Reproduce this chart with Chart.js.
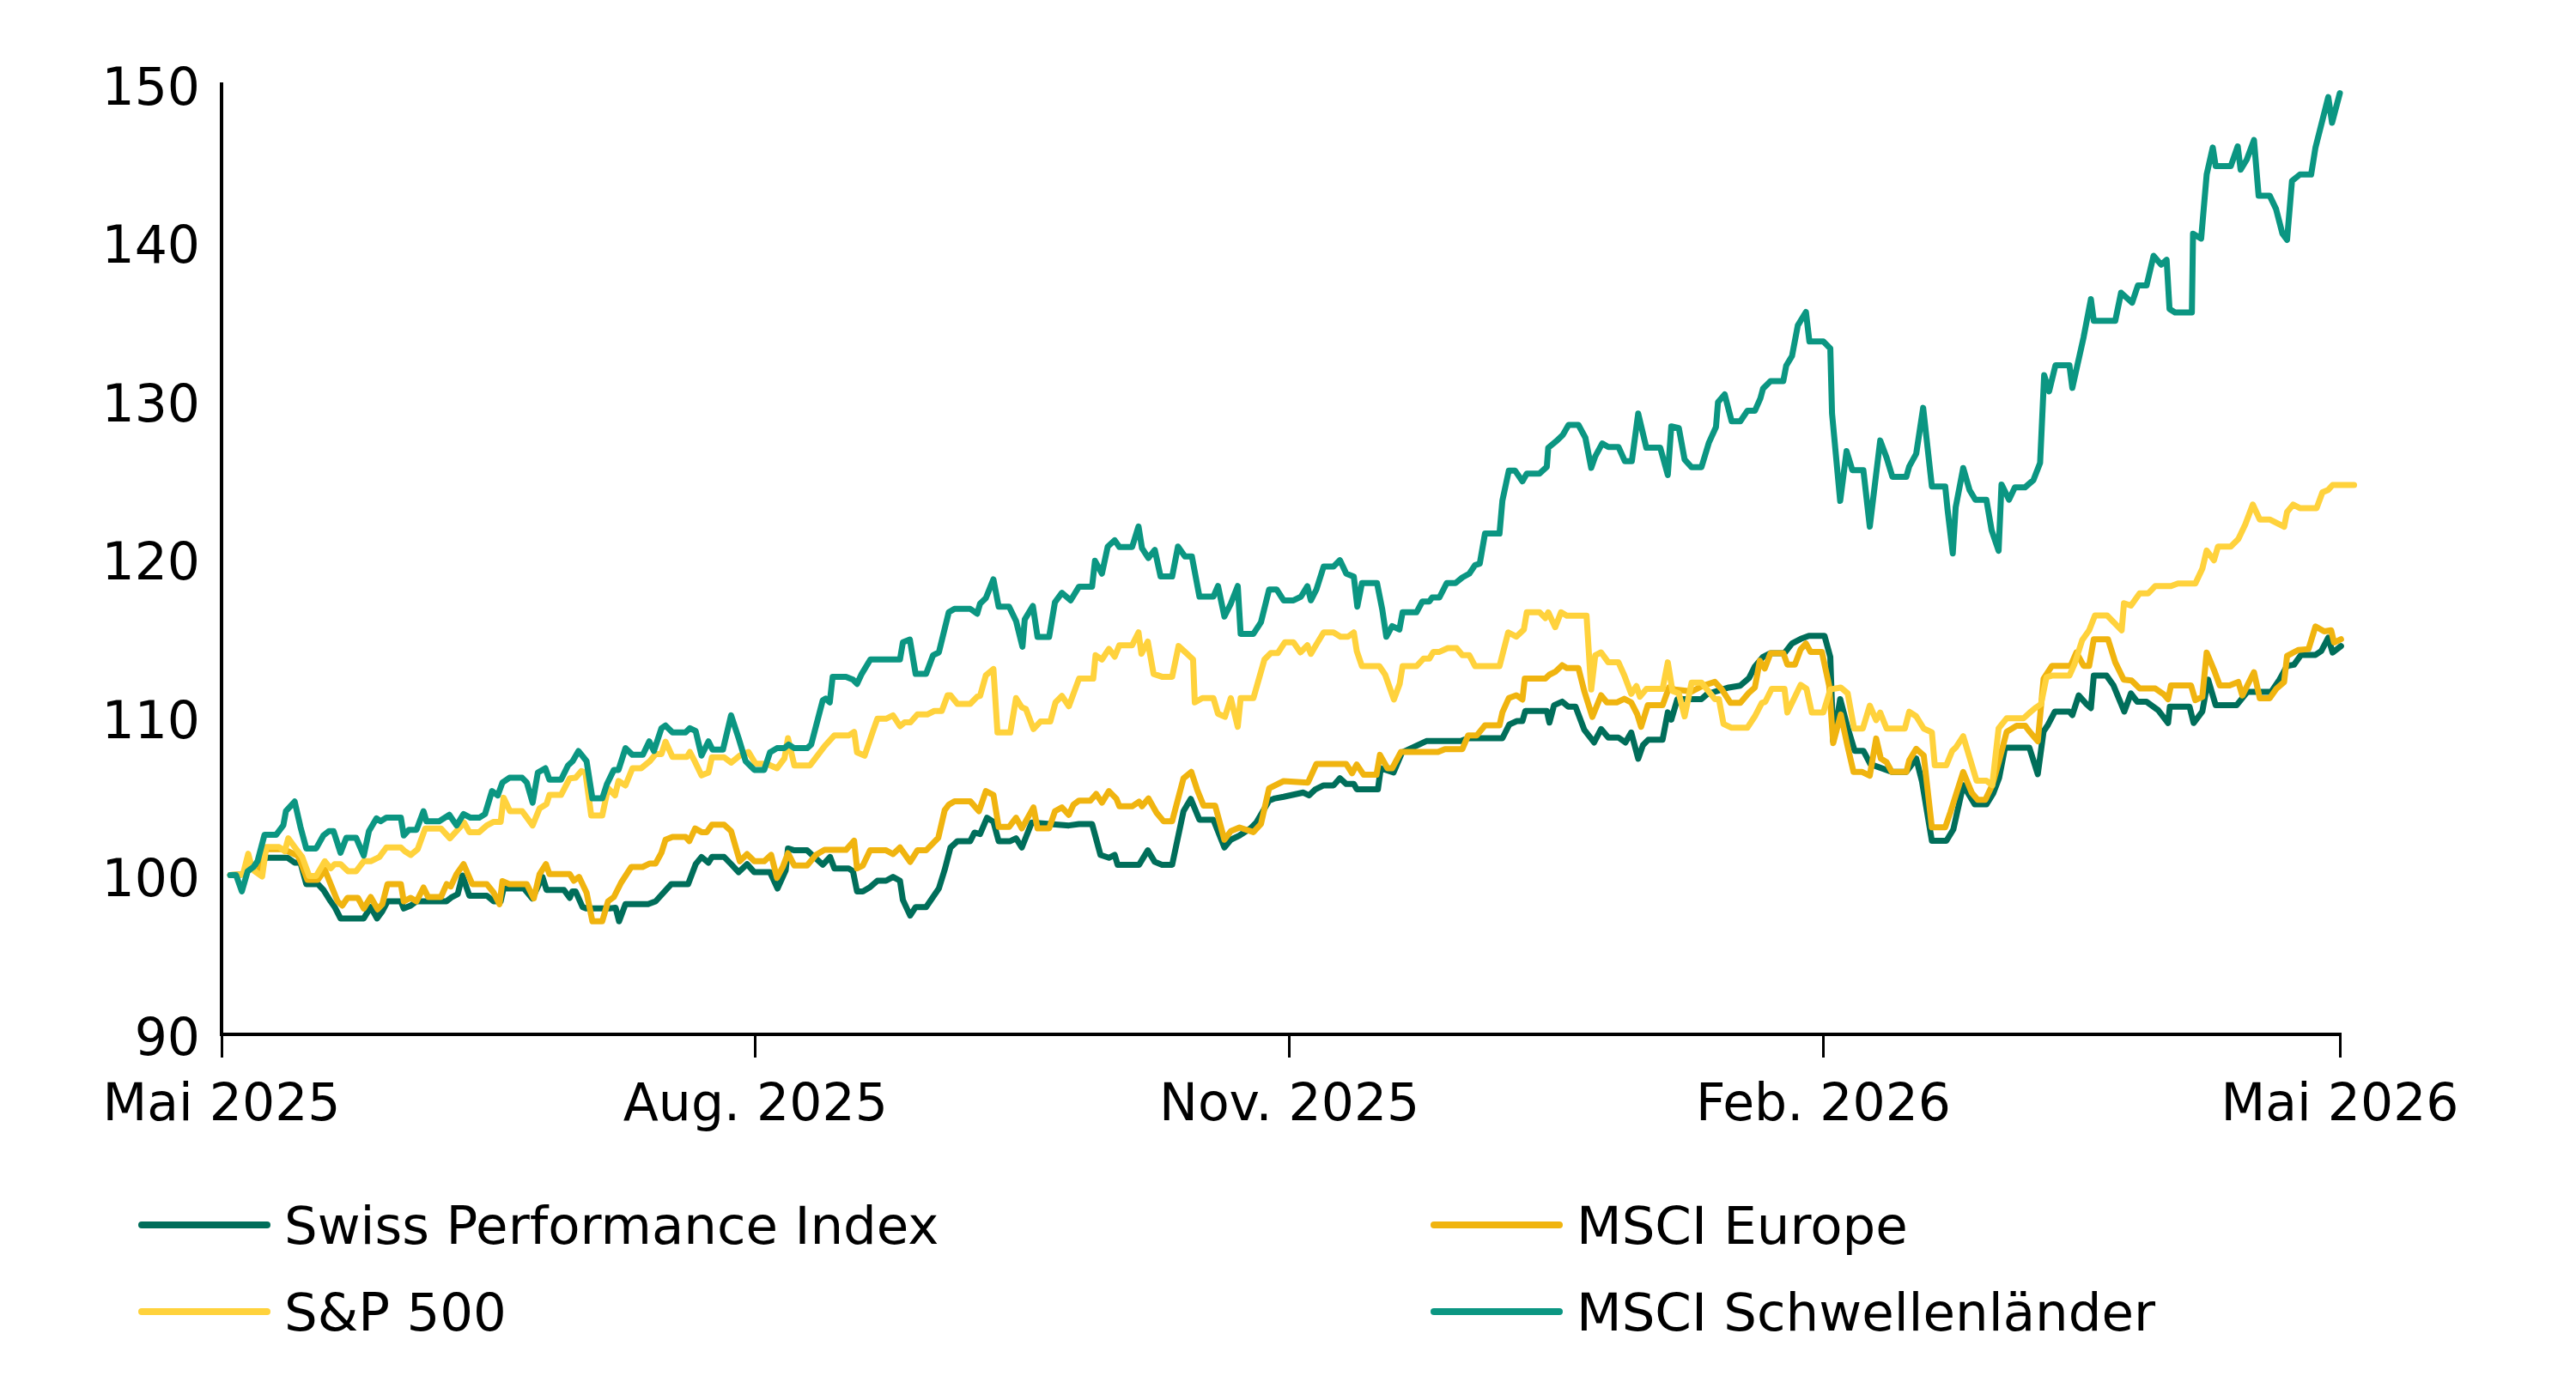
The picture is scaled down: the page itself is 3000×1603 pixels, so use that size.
<!DOCTYPE html>
<html lang="de">
<head>
<meta charset="utf-8">
<title>Indexentwicklung</title>
<script src="https://cdn.jsdelivr.net/npm/chart.js@4.4.1/dist/chart.umd.min.js"></script>
<style>
  html, body { margin: 0; padding: 0; background: #ffffff; }
  #wrap { position: relative; width: 3000px; height: 1603px; overflow: hidden; }
  #chart { position: absolute; left: 0; top: 0; }
  .legend-item { position: absolute; height: 80px; display: flex; align-items: center;
    font-family: 'DejaVu Sans', sans-serif; font-size: 61px; color: #000; white-space: nowrap; }
  .legend-line { display: inline-block; width: 154px; height: 8px; border-radius: 4px; margin-right: 16px; }
</style>
</head>
<body>
<div id="wrap">
  <canvas id="chart" width="3000" height="1603"></canvas>
</div>
<script>
// x values: calendar days since 1 May 2025
const tickDays = [0, 92, 184, 276, 365];
const tickLabels = ['Mai 2025', 'Aug. 2025', 'Nov. 2025', 'Feb. 2026', 'Mai 2026'];

const seriesNames = ['Swiss Performance Index', 'MSCI Europe', 'S&P 500', 'MSCI Schwellenländer'];
const seriesColors = ['#006E5A', '#F0B40F', '#FFD23C', '#0B9682'];

// [day, index value]
const spiPoints = [[1.5,100.06],[3.5,100.1],[4.7,100.39],[6.2,100.57],[7.7,101.15],[11.4,101.15],[12.6,100.84],[13.6,100.84],[14.6,99.49],[16.6,99.49],[17.55,99.12],[18.8,98.4],[19.5,98.04],[20.5,97.32],[24.5,97.32],[25.7,98.04],[26.8,97.32],[27.7,97.77],[28.6,98.4],[30.9,98.4],[31.4,97.95],[32.6,98.13],[33.6,98.4],[38.75,98.4],[39.7,98.67],[40.7,98.85],[41.5,100.03],[42.7,98.76],[45.7,98.76],[46.9,98.4],[48.1,98.4],[48.6,99.21],[52.1,99.21],[53.55,98.58],[55.3,99.94],[56.0,99.12],[59.0,99.12],[60.0,98.62],[60.45,99.03],[61.0,99.03],[62.2,98.04],[62.9,97.95],[66.9,97.95],[67.9,98.0],[68.5,97.14],[69.6,98.22],[73.5,98.22],[74.8,98.4],[77.5,99.49],[80.4,99.49],[81.7,100.75],[82.7,101.2],[83.9,100.84],[84.5,101.2],[86.6,101.2],[87.8,100.75],[89.1,100.24],[90.55,100.75],[91.8,100.24],[94.5,100.24],[95.8,99.21],[97.2,100.35],[97.6,101.74],[98.7,101.62],[100.9,101.62],[102.4,101.11],[103.6,100.71],[104.85,101.2],[105.6,100.48],[108.05,100.48],[108.8,100.3],[109.5,99.03],[110.5,99.03],[111.75,99.3],[113.0,99.7],[114.5,99.7],[115.7,99.94],[116.9,99.7],[117.4,98.49],[118.65,97.5],[119.6,98.04],[121.4,98.04],[123.6,99.21],[124.6,100.39],[125.6,101.8],[126.8,102.2],[129.0,102.2],[129.75,102.74],[130.7,102.65],[131.9,103.68],[133.0,103.42],[133.9,102.2],[135.9,102.2],[136.9,102.38],[137.9,101.8],[139.6,103.37],[146.0,103.19],[147.75,103.28],[150.0,103.28],[151.45,101.33],[152.9,101.15],[153.9,101.33],[154.4,100.71],[158.1,100.71],[159.6,101.62],[160.8,100.89],[162.05,100.71],[163.8,100.71],[165.75,104.09],[167.0,104.87],[168.5,103.55],[170.9,103.55],[172.8,101.8],[173.9,102.29],[175.4,102.56],[177.3,103.01],[178.3,103.37],[180.5,104.76],[181.5,104.9],[183.0,105.0],[186.4,105.27],[187.4,105.09],[188.4,105.45],[189.9,105.72],[191.6,105.72],[192.7,106.17],[193.8,105.81],[195.1,105.81],[195.6,105.48],[199.25,105.48],[199.75,106.8],[201.95,106.53],[203.4,107.8],[207.6,108.52],[213.55,108.52],[214.8,108.7],[220.7,108.7],[221.9,109.57],[223.2,109.78],[224.15,109.78],[224.65,110.42],[228.35,110.42],[228.8,109.69],[229.6,110.78],[231.0,111.01],[232.05,110.69],[233.3,110.69],[234.8,109.24],[236.5,108.43],[237.7,109.28],[238.95,108.74],[240.7,108.74],[241.9,108.43],[242.9,109.06],[244.1,107.4],[244.9,108.25],[245.85,108.61],[248.3,108.61],[249.2,110.33],[249.8,109.87],[250.85,111.17],[255.0,111.17],[256.0,111.49],[259.7,111.9],[261.7,112.02],[263.2,112.5],[264.2,113.23],[265.6,113.83],[266.9,114.07],[269.3,114.07],[270.6,114.68],[272.1,114.97],[273.5,115.16],[276.2,115.16],[277.2,113.83],[277.7,108.51],[278.9,111.17],[280.2,109.36],[281.4,107.9],[282.9,107.9],[284.1,107.06],[285.4,106.89],[287.8,106.57],[290.3,106.57],[292.0,107.42],[293.0,105.97],[294.7,102.22],[297.2,102.22],[298.4,102.94],[300.1,105.73],[302.1,104.52],[304.1,104.52],[305.3,105.24],[306.3,106.21],[307.3,108.1],[311.5,108.1],[312.95,106.43],[313.95,109.13],[314.7,109.54],[315.9,110.38],[318.4,110.38],[318.9,110.16],[320.0,111.4],[321.35,110.85],[322.1,110.6],[322.6,112.65],[324.8,112.65],[326.0,112.03],[327.85,110.38],[329.0,111.53],[330.1,111.0],[331.7,111.0],[333.7,110.47],[335.4,109.66],[335.7,110.69],[339.1,110.69],[339.8,109.66],[341.3,110.38],[342.3,112.4],[343.6,110.78],[347.2,110.78],[349.05,111.62],[353.15,111.62],[354.6,112.4],[355.9,113.27],[357.1,113.34],[358.3,113.96],[360.8,113.96],[361.8,114.21],[363.0,115.05],[363.75,114.11],[365.2,114.52],[367.45,114.52]];

const europePoints = [[1.5,100.06],[3.5,100.1],[5.0,100.6],[6.5,100.3],[7.7,101.69],[10.65,101.69],[13.1,101.29],[13.6,100.93],[14.8,99.76],[16.6,99.76],[17.8,100.39],[19.0,99.3],[20.0,98.4],[20.8,98.13],[21.7,98.62],[23.5,98.62],[24.5,97.95],[25.7,98.67],[26.9,97.9],[27.7,98.22],[28.6,99.49],[30.9,99.49],[31.4,98.4],[32.6,98.62],[33.6,98.4],[34.8,99.27],[35.6,98.67],[37.8,98.67],[38.8,99.49],[39.5,99.34],[40.5,100.12],[41.7,100.75],[43.2,99.49],[45.7,99.49],[46.9,98.94],[47.9,98.22],[48.4,99.67],[49.6,99.49],[52.6,99.49],[53.8,98.58],[54.8,100.12],[55.9,100.75],[56.5,100.12],[60.0,100.12],[60.7,99.7],[61.6,99.94],[62.9,98.94],[63.9,97.14],[65.6,97.14],[66.6,98.4],[67.6,98.67],[68.85,99.58],[70.6,100.57],[72.55,100.57],[73.8,100.79],[74.8,100.79],[75.8,101.47],[76.5,102.29],[77.7,102.47],[79.95,102.47],[80.6,102.2],[81.6,103.0],[82.7,102.77],[83.6,102.77],[84.5,103.24],[86.6,103.24],[87.8,102.83],[89.3,100.93],[90.55,101.38],[91.8,100.93],[93.5,100.93],[94.7,101.33],[95.7,99.88],[96.7,100.57],[97.6,101.44],[98.7,100.66],[100.9,100.66],[102.4,101.33],[103.9,101.65],[107.6,101.65],[109.0,102.23],[109.5,100.48],[110.5,100.66],[111.75,101.62],[114.5,101.62],[115.7,101.38],[116.9,101.8],[118.65,100.89],[119.9,101.62],[121.4,101.62],[123.5,102.41],[124.6,104.15],[125.3,104.5],[126.3,104.72],[129.0,104.72],[130.5,104.09],[131.7,105.36],[133.0,105.12],[133.9,103.1],[135.7,103.1],[136.9,103.68],[137.9,103.01],[139.9,104.33],[140.6,103.01],[142.6,103.01],[143.6,104.09],[144.8,104.33],[146.0,103.86],[146.8,104.51],[147.75,104.76],[149.7,104.76],[150.7,105.18],[151.7,104.63],[152.9,105.36],[154.2,104.87],[154.7,104.4],[156.9,104.4],[158.1,104.69],[158.6,104.4],[159.7,104.9],[161.1,104.0],[162.3,103.46],[163.8,103.46],[165.75,106.17],[167.1,106.57],[168.1,105.45],[169.2,104.45],[171.2,104.45],[172.8,102.29],[173.9,102.83],[175.4,103.06],[177.8,102.77],[179.1,103.28],[180.5,105.54],[183.0,105.99],[187.2,105.9],[188.65,107.07],[193.8,107.07],[194.8,106.49],[195.6,107.04],[196.8,106.39],[199.0,106.39],[199.6,107.65],[200.9,106.8],[201.7,106.8],[203.2,107.83],[209.6,107.83],[210.8,108.01],[213.8,108.01],[214.8,108.88],[216.3,108.88],[217.7,109.51],[220.2,109.51],[220.7,110.33],[221.8,111.23],[223.1,111.41],[224.15,111.14],[224.55,112.46],[228.1,112.46],[228.8,112.71],[229.8,112.89],[231.0,113.31],[231.8,113.13],[233.8,113.13],[234.8,111.68],[236.2,110.05],[237.7,111.41],[238.7,110.96],[240.4,110.96],[241.7,111.19],[242.9,110.96],[243.9,110.24],[244.6,109.42],[245.75,110.78],[248.3,110.78],[249.4,111.9],[250.4,111.78],[253.3,111.65],[255.3,112.02],[257.3,112.26],[258.5,111.78],[260.0,110.93],[261.7,110.93],[263.2,111.58],[264.2,111.9],[265.05,113.59],[265.9,113.1],[266.9,114.07],[269.1,114.07],[269.8,113.35],[271.1,113.35],[272.1,114.32],[273.0,114.68],[273.8,114.15],[275.75,114.15],[277.0,112.02],[277.7,108.39],[279.0,110.2],[280.2,108.15],[281.2,106.57],[282.7,106.57],[284.0,106.33],[285.1,108.68],[285.9,107.42],[286.9,107.18],[287.8,106.57],[290.3,106.57],[290.8,107.3],[292.0,108.03],[293.3,107.61],[294.7,103.07],[297.0,103.07],[297.9,104.03],[300.1,106.57],[301.6,105.24],[302.6,104.81],[303.9,104.81],[305.1,105.73],[306.3,107.3],[307.6,109.11],[309.3,109.48],[310.8,109.48],[311.5,109.13],[312.95,108.51],[313.95,112.46],[315.4,113.27],[318.6,113.27],[319.6,114.11],[320.85,113.27],[321.8,113.27],[322.6,114.95],[325.05,114.95],[326.3,113.49],[327.75,112.4],[329.1,112.34],[330.5,111.84],[333.2,111.84],[334.65,111.47],[335.4,111.16],[335.9,112.03],[339.35,112.03],[340.1,111.1],[341.3,111.31],[342.05,114.11],[343.3,113.02],[344.3,112.03],[346.0,112.03],[347.5,112.25],[348.2,111.4],[350.2,112.87],[351.2,111.22],[352.9,111.22],[354.1,111.84],[355.4,112.25],[355.9,113.9],[357.8,114.27],[359.6,114.33],[360.8,115.76],[362.3,115.45],[363.5,115.51],[364.0,114.74],[365.2,114.95],[367.45,114.95]];

const spxPoints = [[1.5,100.06],[3.7,100.1],[4.6,101.4],[5.2,100.57],[5.7,100.3],[7.0,99.97],[7.7,101.83],[9.9,101.83],[10.9,101.56],[11.5,102.38],[12.6,101.83],[13.9,101.2],[15.1,100.0],[16.3,100.0],[17.8,100.93],[18.8,100.48],[19.5,100.75],[20.5,100.75],[21.8,100.3],[23.2,100.3],[24.5,100.93],[25.7,100.93],[27.2,101.2],[28.4,101.8],[30.9,101.8],[31.6,101.56],[32.6,101.33],[33.8,101.69],[35.1,103.0],[37.8,103.0],[39.35,102.38],[40.7,102.92],[41.8,103.37],[42.7,102.77],[44.4,102.77],[45.7,103.19],[46.9,103.42],[48.1,103.42],[48.6,104.94],[49.7,104.09],[51.8,104.09],[53.6,103.19],[54.8,104.27],[56.0,104.54],[56.5,105.12],[58.5,105.12],[60.0,106.17],[61.0,106.2],[62.0,106.62],[62.7,106.53],[63.7,103.82],[65.6,103.82],[66.6,105.54],[67.8,105.09],[68.4,106.0],[69.6,105.72],[70.8,106.8],[72.3,106.8],[73.8,107.25],[74.8,107.7],[75.8,107.7],[76.5,108.48],[77.7,107.52],[80.2,107.52],[80.7,107.83],[81.4,107.34],[82.7,106.35],[83.9,106.53],[84.5,107.49],[86.6,107.49],[87.8,107.16],[89.3,107.6],[90.8,107.83],[92.0,107.1],[94.0,107.07],[95.7,106.8],[97.0,107.43],[97.6,108.7],[98.7,106.98],[101.4,106.98],[103.9,108.19],[105.6,108.88],[108.1,108.88],[109.0,109.1],[109.5,107.8],[110.8,107.6],[112.2,109.1],[113.0,109.93],[114.5,109.93],[115.7,110.14],[116.9,109.46],[117.7,109.7],[118.7,109.7],[119.9,110.2],[121.6,110.2],[122.8,110.42],[124.1,110.42],[125.1,111.41],[125.6,111.41],[126.8,110.87],[129.0,110.87],[130.2,111.32],[130.7,111.37],[131.7,112.67],[133.0,113.07],[133.7,109.06],[135.9,109.06],[136.9,111.23],[137.9,110.65],[138.6,110.54],[139.9,109.28],[141.1,109.75],[142.8,109.75],[143.7,110.96],[144.8,111.37],[146.0,110.72],[147.75,112.46],[150.2,112.46],[150.6,113.94],[151.7,113.67],[152.9,114.34],[153.9,113.85],[154.7,114.57],[156.9,114.57],[158.0,115.38],[158.5,114.03],[159.6,114.8],[160.6,112.76],[162.05,112.58],[163.8,112.58],[164.9,114.52],[166.0,114.15],[167.4,113.67],[167.7,110.96],[169.0,111.23],[170.9,111.23],[171.7,110.24],[172.9,110.05],[173.9,111.23],[175.1,109.42],[175.6,111.23],[177.8,111.23],[179.7,113.67],[180.8,114.08],[182.0,114.08],[183.2,114.75],[184.7,114.75],[185.9,114.12],[187.1,114.57],[187.7,114.03],[188.65,114.62],[189.9,115.38],[191.6,115.38],[192.8,115.11],[194.1,115.11],[195.1,115.38],[195.6,114.21],[196.5,113.25],[199.5,113.25],[200.5,112.71],[202.0,111.14],[203.0,112.13],[203.5,113.25],[205.9,113.25],[207.1,113.72],[208.1,113.72],[208.8,114.15],[209.85,114.15],[211.3,114.39],[212.8,114.39],[213.8,113.94],[215.0,113.94],[216.0,113.25],[220.2,113.25],[221.7,115.38],[223.1,115.11],[224.4,115.56],[224.9,116.65],[227.1,116.65],[228.1,116.29],[228.6,116.65],[229.8,115.71],[230.8,116.65],[231.8,116.43],[235.2,116.43],[236.0,111.77],[236.7,113.94],[237.7,114.12],[238.95,113.49],[240.7,113.49],[241.7,112.67],[242.9,111.5],[243.8,111.99],[244.4,111.32],[245.5,111.81],[248.3,111.81],[249.2,113.49],[250.0,111.68],[251.1,111.53],[252.1,110.08],[253.3,112.21],[255.0,112.21],[257.3,111.17],[258.0,111.17],[258.8,109.6],[260.2,109.36],[262.9,109.36],[264.2,110.08],[265.4,110.93],[266.0,111.0],[267.1,111.82],[269.3,111.82],[269.8,110.32],[272.1,112.07],[273.1,111.82],[274.0,110.32],[276.0,110.32],[277.2,111.78],[279.0,111.9],[280.2,111.53],[281.3,109.31],[282.8,109.31],[284.0,110.76],[285.1,109.84],[285.8,110.32],[286.9,109.31],[290.05,109.31],[290.8,110.37],[292.0,110.08],[293.3,109.31],[294.7,109.07],[295.2,106.99],[297.2,106.99],[298.2,107.9],[298.9,108.15],[300.1,108.82],[302.4,106.02],[304.1,106.02],[305.1,105.73],[306.2,109.31],[306.8,109.6],[307.6,109.96],[310.5,109.96],[311.75,110.37],[312.5,110.6],[313.5,110.85],[314.45,112.56],[315.4,112.65],[318.4,112.65],[319.3,113.4],[320.6,114.89],[321.8,115.51],[322.8,116.45],[324.9,116.45],[327.4,115.51],[327.8,117.22],[329.0,117.07],[330.5,117.85],[332.0,117.85],[333.2,118.31],[335.9,118.31],[337.1,118.47],[340.1,118.47],[341.3,119.4],[342.05,120.55],[343.3,119.93],[344.0,120.8],[346.2,120.8],[347.5,121.27],[348.7,122.2],[350.0,123.45],[351.2,122.51],[352.9,122.51],[355.4,122.05],[355.9,122.98],[356.95,123.45],[358.1,123.23],[361.0,123.23],[362.0,124.23],[363.0,124.38],[363.75,124.69],[367.45,124.69]];

const emPoints = [[1.5,100.06],[2.5,100.06],[3.5,99.03],[4.5,100.3],[5.5,100.57],[6.2,100.93],[7.4,102.6],[9.4,102.6],[10.65,103.2],[11.1,104.1],[12.6,104.7],[13.6,103.1],[14.6,101.74],[16.3,101.74],[17.55,102.56],[18.5,102.83],[19.3,102.83],[20.5,101.47],[21.5,102.41],[23.2,102.41],[24.5,101.29],[25.4,102.83],[26.7,103.64],[27.4,103.46],[28.4,103.68],[30.9,103.68],[31.4,102.56],[32.3,102.92],[33.6,102.92],[34.8,104.09],[35.3,103.46],[37.5,103.46],[39.25,103.86],[40.5,103.19],[41.7,103.91],[42.9,103.68],[44.4,103.68],[45.4,103.91],[46.6,105.36],[47.6,105.09],[48.4,105.9],[49.6,106.2],[51.8,106.2],[52.6,105.9],[53.6,104.63],[54.5,106.53],[55.8,106.8],[56.5,106.08],[58.5,106.08],[59.7,106.98],[60.5,107.25],[61.5,107.89],[62.9,107.25],[63.9,104.9],[65.6,104.9],[66.4,105.8],[67.6,106.7],[68.4,106.7],[69.6,108.07],[70.8,107.65],[72.6,107.65],[73.7,108.5],[74.5,107.89],[75.8,109.33],[76.5,109.5],[77.7,109.06],[79.95,109.06],[80.7,109.33],[81.7,109.15],[82.7,107.6],[83.9,108.5],[84.6,107.98],[86.4,107.98],[87.8,110.14],[89.1,108.7],[90.3,107.25],[91.8,106.7],[93.5,106.7],[94.5,107.8],[95.7,108.07],[96.95,108.07],[97.7,108.3],[98.7,108.07],[100.9,108.07],[101.6,108.3],[103.6,111.1],[104.1,111.2],[104.8,110.96],[105.3,112.58],[107.6,112.58],[108.8,112.4],[109.5,112.13],[110.3,112.76],[111.8,113.67],[116.9,113.67],[117.4,114.75],[118.6,114.93],[119.6,112.76],[121.4,112.76],[122.6,113.94],[123.6,114.12],[125.3,116.65],[126.3,116.87],[129.0,116.87],[130.2,116.56],[130.7,117.19],[131.7,117.55],[133.0,118.73],[133.9,117.01],[135.7,117.01],[136.9,116.1],[138.0,114.48],[138.4,116.2],[139.8,117.05],[140.6,115.1],[142.6,115.1],[143.6,117.28],[144.8,117.88],[146.3,117.4],[147.75,118.27],[150.0,118.27],[150.5,119.9],[151.7,119.09],[152.7,120.8],[153.9,121.2],[154.7,120.77],[156.9,120.77],[158.0,122.07],[158.6,120.7],[159.7,120.08],[160.8,120.59],[161.8,118.91],[163.8,118.91],[164.8,120.8],[166.0,120.17],[167.2,120.17],[168.5,117.64],[170.9,117.64],[171.7,118.31],[172.8,116.38],[173.9,117.19],[175.1,118.31],[175.6,115.29],[177.8,115.29],[179.1,116.02],[180.5,118.09],[181.8,118.09],[183.0,117.4],[184.7,117.4],[186.0,117.64],[187.1,118.3],[187.7,117.4],[188.65,118.09],[189.9,119.54],[191.6,119.54],[192.7,119.94],[193.8,119.09],[195.1,118.9],[195.7,117.01],[196.5,118.49],[199.1,118.49],[200.0,116.83],[200.7,115.11],[201.7,115.78],[202.95,115.56],[203.5,116.65],[205.9,116.65],[206.9,117.33],[208.1,117.33],[208.6,117.59],[209.85,117.59],[211.1,118.49],[212.6,118.49],[213.8,118.85],[215.0,119.09],[216.0,119.63],[216.8,119.72],[217.7,121.62],[220.2,121.62],[220.7,123.7],[221.8,125.59],[222.9,125.59],[224.15,124.92],[224.9,125.41],[227.1,125.41],[228.35,125.83],[228.6,127.04],[230.1,127.49],[231.1,127.85],[232.1,128.48],[233.8,128.48],[235.0,127.67],[236.0,125.77],[236.7,126.5],[237.9,127.31],[238.95,127.09],[240.7,127.09],[241.8,126.19],[243.0,126.19],[244.1,129.2],[245.5,127.04],[247.9,127.04],[249.2,125.32],[249.8,128.39],[251.1,128.28],[252.1,126.29],[253.3,125.81],[255.0,125.81],[256.3,127.38],[257.5,128.35],[257.85,129.92],[259.0,130.41],[260.2,128.71],[261.7,128.71],[262.9,129.37],[264.2,129.37],[265.15,130.16],[265.6,130.77],[266.9,131.25],[269.1,131.25],[269.6,132.22],[270.6,132.83],[271.6,134.76],[273.0,135.61],[273.6,133.75],[276.0,133.75],[277.2,133.31],[277.5,129.2],[278.9,123.68],[280.0,126.83],[281.0,125.62],[282.9,125.62],[284.0,122.06],[285.8,127.5],[286.9,126.41],[287.9,125.2],[290.3,125.2],[290.8,125.86],[292.0,126.66],[293.2,129.56],[294.7,124.6],[297.0,124.6],[297.4,123.15],[298.3,120.37],[298.8,123.27],[300.1,125.76],[301.2,124.36],[302.2,123.75],[304.1,123.75],[305.0,121.82],[306.2,120.53],[306.7,124.72],[308.0,123.76],[309.0,124.54],[310.75,124.54],[312.2,125.0],[313.35,126.09],[314.05,131.63],[314.9,130.6],[316.0,132.25],[318.4,132.25],[318.9,130.82],[320.85,134.03],[322.1,136.42],[322.6,135.05],[326.3,135.05],[327.3,136.83],[329.2,136.2],[330.2,137.29],[331.7,137.29],[332.9,139.16],[334.2,138.6],[335.15,138.91],[335.65,135.8],[336.6,135.58],[339.5,135.58],[339.7,140.56],[341.1,140.25],[342.05,144.29],[343.1,146.0],[343.6,144.82],[346.2,144.82],[347.4,146.07],[347.9,144.6],[348.95,145.23],[350.2,146.47],[351.0,142.96],[352.9,142.96],[354.0,142.12],[355.1,140.56],[355.9,140.16],[356.75,143.89],[358.1,144.29],[360.05,144.29],[360.8,146.0],[363.0,149.18],[363.65,147.56],[365.0,149.43],[367.45,149.43]];

const allPoints = [spiPoints, europePoints, spxPoints, emPoints];
const drawOrder = [4, 3, 2, 1]; // higher = drawn earlier (underneath)

const toXY = pts => pts.map(p => ({ x: p[0], y: p[1] }));

const datasets = seriesNames.map((name, i) => ({
  label: name,
  data: toXY(allPoints[i]),
  borderColor: seriesColors[i],
  backgroundColor: seriesColors[i],
  borderWidth: 7,
  pointRadius: 0,
  tension: 0,
  fill: false,
  clip: false,
  borderJoinStyle: 'round',
  borderCapStyle: 'round',
  order: drawOrder[i]
}));

Chart.defaults.font.family = "'DejaVu Sans', sans-serif";
Chart.defaults.color = '#000';

const chart = new Chart(document.getElementById('chart'), {
  type: 'line',
  data: { datasets },
  options: {
    responsive: false,
    animation: false,
    devicePixelRatio: 1,
    events: [],
    layout: { padding: { left: 0, top: 98, right: 275, bottom: 278 } },
    plugins: { legend: { display: false }, tooltip: { enabled: false }, title: { display: false } },
    scales: {
      x: {
        type: 'linear',
        min: 0,
        max: 365,
        afterBuildTicks: s => { s.ticks = tickDays.map(v => ({ value: v })); },
        afterFit: s => { s.height = 120; },
        ticks: {
          autoSkip: false,
          maxRotation: 0,
          padding: 21,
          font: { size: 60 },
          color: '#000',
          callback: v => { const k = tickDays.indexOf(v); return k >= 0 ? tickLabels[k] : ''; }
        },
        grid: { display: true, drawOnChartArea: false, drawTicks: true, tickLength: 27, color: '#000', lineWidth: 3 },
        border: { display: true, color: '#000', width: 4 }
      },
      y: {
        type: 'linear',
        min: 90,
        max: 150,
        afterFit: s => { s.width = 258; },
        ticks: { stepSize: 10, padding: 25, labelOffset: 8, font: { size: 60 }, color: '#000' },
        grid: { display: false, drawTicks: false },
        border: { display: true, color: '#000', width: 4 }
      }
    }
  }
});

// HTML legend in two columns, built from the chart's datasets
const legendSlots = [
  { idx: 0, left: 161, cy: 1427 },
  { idx: 1, left: 1666, cy: 1427 },
  { idx: 2, left: 161, cy: 1528 },
  { idx: 3, left: 1666, cy: 1528 }
];
const wrap = document.getElementById('wrap');
legendSlots.forEach(slot => {
  const ds = chart.data.datasets[slot.idx];
  const item = document.createElement('div');
  item.className = 'legend-item';
  item.style.left = slot.left + 'px';
  item.style.top = (slot.cy - 40) + 'px';
  const line = document.createElement('span');
  line.className = 'legend-line';
  line.style.background = ds.borderColor;
  const txt = document.createElement('span');
  txt.textContent = ds.label;
  item.appendChild(line);
  item.appendChild(txt);
  wrap.appendChild(item);
});
</script>
</body>
</html>
